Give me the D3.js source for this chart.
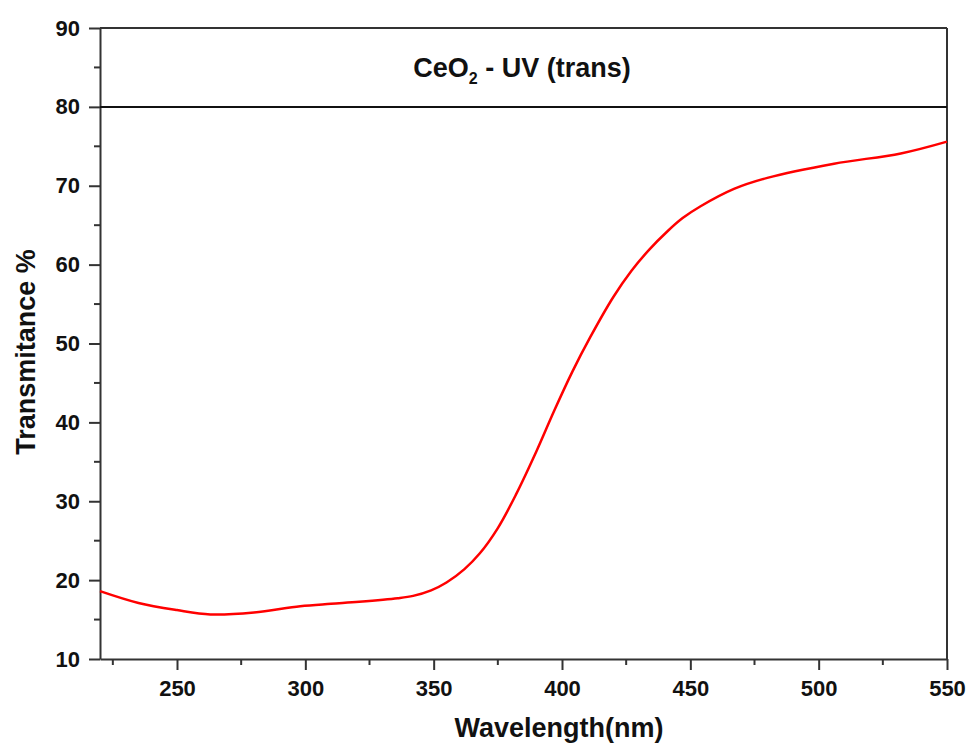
<!DOCTYPE html>
<html>
<head>
<meta charset="utf-8">
<script src="https://cdn.jsdelivr.net/npm/d3@7"></script>
<style>
  body { margin: 0; background: #fff; }
  svg text { font-family: "Liberation Sans", Arial, sans-serif; font-weight: bold; fill: #111; }
</style>
</head>
<body>
<div id="chart"></div>
<script>
// wavelength (nm) and transmittance (%)
var wavelength = [220, 235, 250, 263, 280, 298, 310, 321, 336, 342, 349, 355, 362, 368, 375, 382,
                  390, 397, 404, 411, 420, 427, 434, 441, 447, 454, 467, 480, 506, 532, 550];
var transmit = [18.6, 17.1, 16.2, 15.65, 15.9, 16.7, 17.0, 17.25, 17.7, 18.0, 18.7, 19.7, 21.4, 23.4, 26.6, 30.8,
                36.3, 41.5, 46.4, 50.8, 55.9, 59.2, 61.9, 64.2, 65.9, 67.4, 69.6, 71.0, 72.8, 74.1, 75.6];
var xTicks = [250, 300, 350, 400, 450, 500, 550];
var yTicks = [10, 20, 30, 40, 50, 60, 70, 80, 90];
var refLine = 80;

var w = 967, h = 747;
var m = {left: 100, right: 20, top: 28, bottom: 88};

var svg = d3.select("#chart").append("svg")
  .attr("width", w)
  .attr("height", h);

var x = d3.scaleLinear().domain([220, 550]).range([m.left, w - m.right]);
var y = d3.scaleLinear().domain([10, 90]).range([h - m.bottom, m.top]);

// minor ticks (half steps)
var xMinor = d3.range(225, 550, 50);
var yMinor = d3.range(15, 90, 10);

var axisColor = "#333";

// x axis
var gx = svg.append("g").attr("transform", "translate(0," + y(10) + ")");
gx.call(d3.axisBottom(x).tickValues(xTicks).tickSize(11).tickSizeOuter(0).tickPadding(10));
gx.selectAll(".tick text").attr("font-size", "22px");
gx.append("g").selectAll("line").data(xMinor).enter().append("line")
  .attr("x1", d => x(d)).attr("x2", d => x(d))
  .attr("y1", 0).attr("y2", 6);

// y axis
var gy = svg.append("g").attr("transform", "translate(" + x(220) + ",0)");
gy.call(d3.axisLeft(y).tickValues(yTicks).tickSize(11).tickSizeOuter(0).tickPadding(9));
gy.selectAll(".tick text").attr("font-size", "22px");
gy.append("g").selectAll("line").data(yMinor).enter().append("line")
  .attr("x1", 0).attr("x2", -6)
  .attr("y1", d => y(d)).attr("y2", d => y(d));

svg.selectAll(".domain, .tick line, g > g > line")
  .attr("stroke", axisColor)
  .attr("stroke-width", 2);

// top and right frame
svg.append("line")
  .attr("x1", x(220)).attr("x2", x(550))
  .attr("y1", y(90)).attr("y2", y(90))
  .attr("stroke", axisColor).attr("stroke-width", 2);
svg.append("line")
  .attr("x1", x(550)).attr("x2", x(550))
  .attr("y1", y(90)).attr("y2", y(10))
  .attr("stroke", axisColor).attr("stroke-width", 2);

// horizontal line at 80
svg.append("line")
  .attr("x1", x(220)).attr("x2", x(550))
  .attr("y1", y(refLine)).attr("y2", y(refLine))
  .attr("stroke", "#111").attr("stroke-width", 2);

// curve
var pts = wavelength.map((d, i) => [d, transmit[i]]);
var line = d3.line()
  .x(d => x(d[0]))
  .y(d => y(d[1]))
  .curve(d3.curveCatmullRom);

svg.append("path")
  .datum(pts)
  .attr("d", line)
  .attr("fill", "none")
  .attr("stroke", "#ff0000")
  .attr("stroke-width", 2.5);

// title inside the top band
var title = svg.append("text")
  .attr("x", 522)
  .attr("y", 77)
  .attr("text-anchor", "middle")
  .attr("font-size", "27px");
title.append("tspan").text("CeO");
title.append("tspan").attr("font-size", "16px").attr("dy", 7).text("2");
title.append("tspan").attr("dy", -7).text(" - UV (trans)");

// axis titles
svg.append("text")
  .attr("x", 559)
  .attr("y", 737)
  .attr("text-anchor", "middle")
  .attr("font-size", "27px")
  .text("Wavelength(nm)");

svg.append("text")
  .attr("transform", "translate(35,352) rotate(-90)")
  .attr("text-anchor", "middle")
  .attr("font-size", "27px")
  .text("Transmitance %");
</script>
</body>
</html>
